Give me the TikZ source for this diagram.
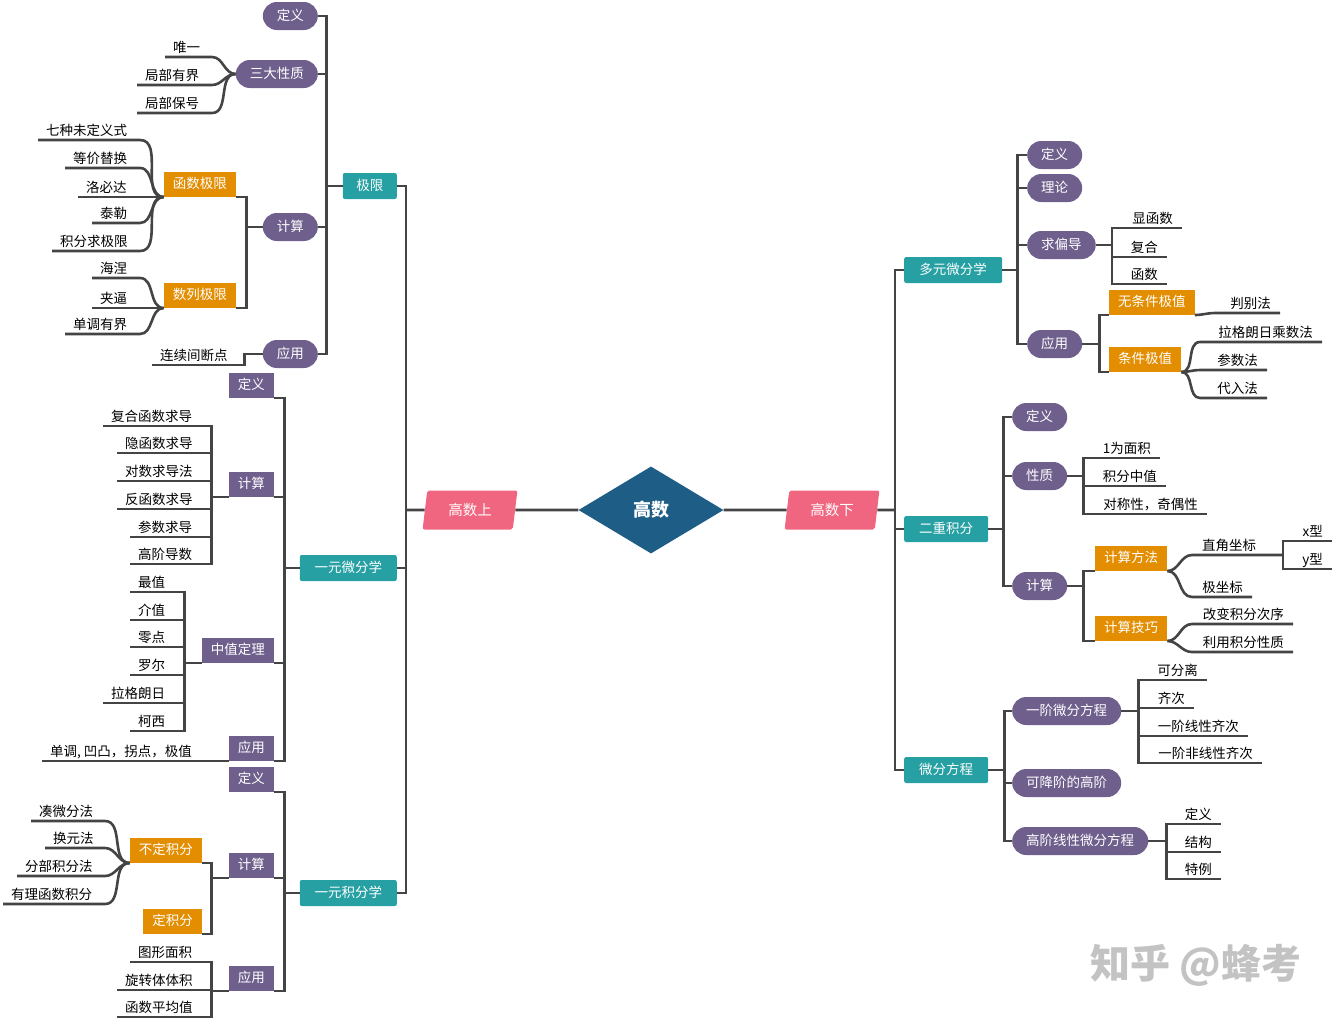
\documentclass[tikz,border=0pt]{standalone}
\usepackage{fontspec}
\setmainfont{Noto Sans CJK SC}
\usetikzlibrary{shapes.geometric,calc}
\definecolor{linec}{RGB}{68,68,68}
\definecolor{purp}{RGB}{110,95,140}
\definecolor{tealc}{RGB}{38,160,163}
\definecolor{orng}{RGB}{227,141,0}
\definecolor{pinkc}{RGB}{240,101,127}
\definecolor{navy}{RGB}{30,93,133}
\definecolor{wmgray}{RGB}{195,195,195}
\begin{document}
\begin{tikzpicture}[x=1pt,y=-1pt,
  font=\fontsize{13.5}{16}\selectfont,
  conn/.style={draw=linec, line width=2.6pt},
  pill/.style={fill=purp, text=white, rounded corners=14pt, minimum height=28pt, inner xsep=14pt, inner ysep=0pt, text height=10.5pt, text depth=2pt},
  prect/.style={fill=purp, text=white, minimum height=25pt, inner xsep=9pt, inner ysep=0pt, text height=10.5pt, text depth=2pt},
  obox/.style={fill=orng, text=white, minimum height=25pt, inner xsep=9pt, inner ysep=0pt, text height=10.5pt, text depth=2pt},
  tbox/.style={fill=tealc, text=white, rounded corners=2pt, minimum height=26pt, inner xsep=13pt, inner ysep=0pt, text height=10.5pt, text depth=2pt},
  leafl/.style={anchor=south west, inner xsep=8pt, inner ysep=3pt, text height=11pt, text depth=1.5pt},
  leafr/.style={anchor=south east, inner xsep=9pt, inner ysep=3pt, text height=11pt, text depth=1.5pt},
  para/.style={trapezium, trapezium left angle=80, trapezium right angle=100, trapezium stretches=true, minimum width=95pt, minimum height=39pt, fill=pinkc, text=white, rounded corners=2pt, inner sep=0pt, font=\fontsize{14.5}{16}\selectfont}
]
\useasboundingbox (0,0) rectangle (1335,1020);

% ---------- centre ----------
\node[diamond, fill=navy, minimum width=145pt, minimum height=87pt, inner sep=0pt, text=white, font=\fontsize{18}{20}\selectfont\bfseries] (gs) at (651,510) {高数};
\node[para] (hsh) at (470,510) {高数上};
\node[para] (hsx) at (832,510) {高数下};
\coordinate (sL) at (406,510);
\coordinate (sR) at (895,510);

\node[tbox, minimum width=54pt, anchor=east] (jx) at (397,186) {极限};
\node[tbox, minimum width=97pt, anchor=east] (ywf) at (397,568) {一元微分学};
\node[tbox, minimum width=97pt, anchor=east] (ywj) at (397,893) {一元积分学};
\node[tbox, minimum width=98pt, anchor=west] (dy) at (904,270) {多元微分学};
\node[tbox, minimum width=84pt, anchor=west] (ec) at (904,529) {二重积分};
\node[tbox, minimum width=84pt, anchor=west] (wf) at (904,770) {微分方程};

\draw[conn] (hsh.east) -- (gs.west);
\draw[conn] (gs.east) -- (hsx.west);
\draw[conn] (hsh.west) -- (sL);
\draw[conn] (hsx.east) -- (sR);
\foreach \n in {jx,ywf,ywj} \draw[conn] (sL) |- (\n.east);
\foreach \n in {dy,ec,wf} \draw[conn] (sR) |- (\n.west);

% ---------- 极限 ----------
\node[pill, anchor=east] (jdy) at (318,16) {定义};
\node[pill, anchor=east] (jsd) at (318,74) {三大性质};
\node[pill, anchor=east] (jjs) at (318,227) {计算};
\node[pill, anchor=east] (jyy) at (318,354) {应用};
\foreach \n in {jdy,jsd,jjs,jyy} \draw[conn] (jx.west) -- ++(-16,0) |- (\n.east);

\foreach \nm/\xx/\yy/\tx in {wy/165/57/唯一, jbyj/137/85/局部有界, jbbh/137/113/局部保号} {
  \node[leafl] (\nm) at (\xx,\yy) {\tx};
  \draw[conn] (jsd.west) to[out=180,in=0] (212,\yy) -- (\nm.south west);
}

\node[obox, anchor=south east] (hsjx) at (236,197) {函数极限};
\node[obox, anchor=south east] (sljx) at (236,308) {数列极限};
\draw[conn] (jjs.west) -- ++(-16,0) |- (hsjx.south east);
\draw[conn] (jjs.west) -- ++(-16,0) |- (sljx.south east);

\foreach \nm/\xx/\yy/\tx in {qz/38/140/七种未定义式, djth/65/168/等价替换, tl/92/223/泰勒, jfqjx/52/251/积分求极限} {
  \node[leafl] (\nm) at (\xx,\yy) {\tx};
  \draw[conn] (hsjx.south west) to[out=180,in=0] (140,\yy) -- (\nm.south west);
}
\node[leafl] (lbd) at (78,197) {洛必达};
\draw[conn] (hsjx.south west) -- (lbd.south west);

\foreach \nm/\xx/\yy/\tx in {hn/92/278/海涅, ddyj/65/334/单调有界} {
  \node[leafl] (\nm) at (\xx,\yy) {\tx};
  \draw[conn] (sljx.south west) to[out=180,in=0] (140,\yy) -- (\nm.south west);
}
\node[leafl] (jb) at (92,308) {夹逼};
\draw[conn] (sljx.south west) -- (jb.south west);

\node[leafl] (lxjd) at (152,365) {连续间断点};
\draw[conn] (jyy.west) -- ++(-18,0) |- (lxjd.south west);

% ---------- 一元微分学 ----------
\node[prect, anchor=south east] (wdy) at (274,398) {定义};
\node[prect, anchor=south east] (wjs) at (274,497) {计算};
\node[prect, anchor=south east] (wzz) at (274,663) {中值定理};
\node[prect, anchor=south east] (wyy) at (274,761) {应用};
\foreach \n in {wdy,wjs,wzz,wyy} \draw[conn] (ywf.west) -- ++(-15,0) |- (\n.south east);

\foreach \nm/\xx/\yy/\tx in {b1/103/426/复合函数求导, b2/117/453/隐函数求导, b3/117/481/对数求导法, b4/117/509/反函数求导, b5/130/537/参数求导, b6/130/564/高阶导数} {
  \node[leafl] (\nm) at (\xx,\yy) {\tx};
  \draw[conn] (wjs.south west) -- ++(-17,0) |- (\nm.south west);
}
\foreach \nm/\xx/\yy/\tx in {z1/130/592/最值, z2/130/620/介值, z3/130/647/零点, z4/130/675/罗尔, z5/103/703/拉格朗日, z6/130/731/柯西} {
  \node[leafl] (\nm) at (\xx,\yy) {\tx};
  \draw[conn] (wzz.south west) -- ++(-17,0) |- (\nm.south west);
}
\node[leafl] (ddat) at (42,761) {单调, 凹凸，拐点，极值};
\draw[conn] (wyy.south west) -- (ddat.south west);

% ---------- 一元积分学 ----------
\node[prect, anchor=south east] (jdy2) at (274,792) {定义};
\node[prect, anchor=south east] (jjs2) at (274,878) {计算};
\node[prect, anchor=south east] (jyy2) at (274,991) {应用};
\foreach \n in {jdy2,jjs2,jyy2} \draw[conn] (ywj.west) -- ++(-15,0) |- (\n.south east);

\node[obox, anchor=south east] (bdjf) at (202,863) {不定积分};
\node[obox, anchor=south east] (djf) at (202,934) {定积分};
\draw[conn] (jjs2.south west) -- ++(-17,0) |- (bdjf.south east);
\draw[conn] (jjs2.south west) -- ++(-17,0) |- (djf.south east);

\foreach \nm/\xx/\yy/\tx in {c1/31/821/凑微分法, c2/45/848/换元法, c3/17/876/分部积分法, c4/3/904/有理函数积分} {
  \node[leafl] (\nm) at (\xx,\yy) {\tx};
  \draw[conn] (bdjf.south west) to[out=180,in=0] (105,\yy) -- (\nm.south west);
}
\foreach \nm/\xx/\yy/\tx in {e1/130/962/图形面积, e2/117/990/旋转体体积, e3/117/1017/函数平均值} {
  \node[leafl] (\nm) at (\xx,\yy) {\tx};
  \draw[conn] (jyy2.south west) -- ++(-17,0) |- (\nm.south west);
}

% ---------- 多元微分学 ----------
\node[pill, anchor=west] (ddy) at (1027,155) {定义};
\node[pill, anchor=west] (dll) at (1027,188) {理论};
\node[pill, anchor=west] (dqp) at (1027,245) {求偏导};
\node[pill, anchor=west] (dyy) at (1027,344) {应用};
\foreach \n in {ddy,dll,dqp,dyy} \draw[conn] (dy.east) -- ++(15,0) |- (\n.west);

\foreach \nm/\xx/\yy/\tx in {q1/1182/228/显函数, q2/1167/257/复合, q3/1167/284/函数} {
  \node[leafr] (\nm) at (\xx,\yy) {\tx};
  \draw[conn] (dqp.east) -- ++(16,0) |- (\nm.south east);
}
\node[obox, anchor=south west] (wtj) at (1109,315) {无条件极值};
\node[obox, anchor=south west] (tj) at (1109,372) {条件极值};
\draw[conn] (dyy.east) -- ++(17,0) |- (wtj.south west);
\draw[conn] (dyy.east) -- ++(17,0) |- (tj.south west);
\node[leafr] (pbf) at (1280,313) {判别法};
\draw[conn] (wtj.south east) to[out=0,in=180] (1215,313) -- (pbf.south east);
\foreach \nm/\xx/\yy/\tx in {t1/1322/342/拉格朗日乘数法, t2/1267/370/参数法, t3/1267/398/代入法} {
  \node[leafr] (\nm) at (\xx,\yy) {\tx};
  \draw[conn] (tj.south east) to[out=0,in=180] (1200,\yy) -- (\nm.south east);
}

% ---------- 二重积分 ----------
\node[pill, anchor=west] (edy) at (1012,417) {定义};
\node[pill, anchor=west] (exz) at (1012,476) {性质};
\node[pill, anchor=west] (ejs) at (1012,586) {计算};
\foreach \n in {edy,exz,ejs} \draw[conn] (ec.east) -- ++(15,0) |- (\n.west);

\foreach \nm/\xx/\yy/\tx in {x1/1160/458/1为面积, x2/1166/486/积分中值, x3/1207/514/对称性，奇偶性} {
  \node[leafr] (\nm) at (\xx,\yy) {\tx};
  \draw[conn] (exz.east) -- ++(16,0) |- (\nm.south east);
}
\node[obox, anchor=south west] (jsff) at (1095,571) {计算方法};
\node[obox, anchor=south west] (jsjq) at (1095,641) {计算技巧};
\draw[conn] (ejs.east) -- ++(16,0) |- (jsff.south west);
\draw[conn] (ejs.east) -- ++(16,0) |- (jsjq.south west);

\node[leafl, inner xsep=10pt] (zjzb) at (1192,555) {直角坐标};
\draw[conn] (jsff.south east) to[out=0,in=180] (zjzb.south west) -- ++(91,0) coordinate (zjend);
\node[leafr] (xx) at (1332,541) {x型};
\node[leafr] (yx) at (1332,569) {y型};
\draw[conn] (zjend) |- (xx.south east);
\draw[conn] (zjend) |- (yx.south east);
\node[leafr] (jzb) at (1252,597) {极坐标};
\draw[conn] (jsff.south east) to[out=0,in=180] (1192,597) -- (jzb.south east);
\foreach \nm/\xx/\yy/\tx in {k1/1293/624/改变积分次序, k2/1293/652/利用积分性质} {
  \node[leafr] (\nm) at (\xx,\yy) {\tx};
  \draw[conn] (jsjq.south east) to[out=0,in=180] (1192,\yy) -- (\nm.south east);
}

% ---------- 微分方程 ----------
\node[pill, anchor=west] (yjwf) at (1012,711) {一阶微分方程};
\node[pill, anchor=west] (kjj) at (1012,783) {可降阶的高阶};
\node[pill, anchor=west] (gjxx) at (1012,841) {高阶线性微分方程};
\foreach \n in {yjwf,kjj,gjxx} \draw[conn] (wf.east) -- ++(16,0) |- (\n.west);

\foreach \nm/\xx/\yy/\tx in {f1/1207/680/可分离, f2/1194/708/齐次, f3/1248/736/一阶线性齐次, f4/1262/763/一阶非线性齐次} {
  \node[leafr] (\nm) at (\xx,\yy) {\tx};
  \draw[conn] (yjwf.east) -- ++(17,0) |- (\nm.south east);
}
\foreach \nm/\xx/\yy/\tx in {g1/1221/824/定义, g2/1221/852/结构, g3/1221/879/特例} {
  \node[leafr] (\nm) at (\xx,\yy) {\tx};
  \draw[conn] (gjxx.east) -- ++(18,0) |- (\nm.south east);
}

% ---------- watermark ----------
\node[text=wmgray, font=\fontsize{40}{44}\selectfont\bfseries] (wm) at (1196,965) {知乎 @蜂考};
\end{tikzpicture}
\end{document}
